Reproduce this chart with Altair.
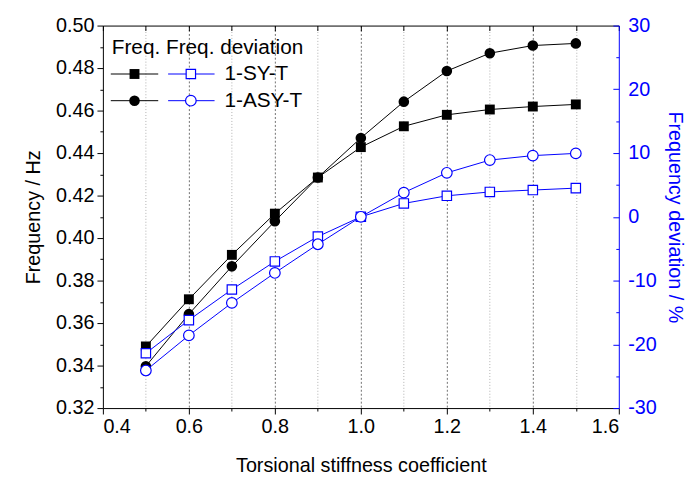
import altair as alt
import pandas as pd

# ---- data ----
coef = [0.5, 0.6, 0.7, 0.8, 0.9, 1.0, 1.1, 1.2, 1.3, 1.4, 1.5]
sy_freq = [0.3490, 0.3712, 0.3921, 0.4115, 0.4285, 0.4428, 0.4526, 0.4580, 0.4605, 0.4619, 0.4629]
asy_freq = [0.3397, 0.3642, 0.3867, 0.4079, 0.4285, 0.4471, 0.4642, 0.4786, 0.4870, 0.4906, 0.4916]
sy_dev = [-21.4, -16.2, -11.4, -7.0, -3.1, 0.0, 2.1, 3.3, 3.9, 4.2, 4.5]
asy_dev = [-24.1, -18.6, -13.5, -8.8, -4.3, 0.0, 3.8, 6.9, 8.9, 9.6, 9.95]

x_major = [0.4, 0.6, 0.8, 1.0, 1.2, 1.4, 1.6]
x_minor = [0.5, 0.7, 0.9, 1.1, 1.3, 1.5]
x_all = [0.4, 0.5, 0.6, 0.7, 0.8, 0.9, 1.0, 1.1, 1.2, 1.3, 1.4, 1.5, 1.6]
x_grid_major = [0.6, 0.8, 1.0, 1.2, 1.4]
yf_major = [0.32, 0.34, 0.36, 0.38, 0.40, 0.42, 0.44, 0.46, 0.48, 0.50]
yf_minor = [0.33, 0.35, 0.37, 0.39, 0.41, 0.43, 0.45, 0.47, 0.49]
yd_major = [-30, -20, -10, 0, 10, 20, 30]
yd_minor = [-25, -15, -5, 5, 15, 25]

legend_header = "Freq. Freq. deviation"
legend_labels = ["1-SY-T", "1-ASY-T"]
legend_shapes = ["square", "circle"]

W, H = 522, 387
FONT = "Liberation Sans"
BLUE = "#0000FF"
FS = 20

df = pd.DataFrame({"coef": coef, "sy_freq": sy_freq, "asy_freq": asy_freq,
                   "sy_dev": sy_dev, "asy_dev": asy_dev})

xs = alt.Scale(domain=[0.4, 1.6], nice=False, zero=False)
yfs = alt.Scale(domain=[0.32, 0.50], nice=False, zero=False)
yds = alt.Scale(domain=[-30, 30], nice=False, zero=False)

ax_x_main = alt.Axis(orient="bottom", values=x_major, format=".1f", tickSize=6, tickColor="black",
                     domainColor="black", labelFont=FONT, labelFontSize=FS, labelColor="black",
                     labelPadding=3, title="Torsional stiffness coefficient", titleFont=FONT,
                     titleFontSize=FS, titleFontWeight="normal", titleColor="black", titlePadding=19,
                     grid=False)
ax_x_grid_minor = alt.Axis(orient="bottom", values=x_minor, grid=True, gridColor="#b0b0b0",
                           gridDash=[1, 2], gridWidth=1, ticks=False, labels=False, domain=False,
                           title=None)
ax_x_grid_major = alt.Axis(orient="bottom", values=x_grid_major, grid=True, gridColor="#707070",
                           gridDash=[2, 2], gridWidth=1, ticks=False, labels=False, domain=False,
                           title=None)
ax_x_top = alt.Axis(orient="bottom", offset=-H, values=x_all, tickSize=5, tickColor="black",
                    labels=False, domain=True, domainColor="black", title=None, grid=False)
ax_x_minor = alt.Axis(orient="bottom", values=x_minor, tickSize=3, tickColor="black",
                      labels=False, domain=False, title=None, grid=False)

ax_yf_main = alt.Axis(orient="left", values=yf_major, format=".2f", tickSize=6, tickColor="black",
                      domainColor="black", labelFont=FONT, labelFontSize=FS, labelColor="black",
                      labelPadding=3, title="Frequency / Hz", titleFont=FONT, titleFontSize=FS,
                      titleFontWeight="normal", titleColor="black", titlePadding=12, grid=False)
ax_yf_minor = alt.Axis(orient="left", values=yf_minor, tickSize=3, tickColor="black",
                       labels=False, domain=False, title=None, grid=False)
ax_yd_main = alt.Axis(orient="right", values=yd_major, ticks=False, domainColor=BLUE,
                      labelExpr="'' + datum.value",
                      labelFont=FONT, labelFontSize=FS, labelColor=BLUE, labelPadding=9,
                      title="Frequency deviation / %", titleFont=FONT, titleFontSize=FS,
                      titleFontWeight="normal", titleColor=BLUE, titlePadding=8, grid=False)
ax_yd_in = alt.Axis(orient="left", offset=-W, values=yd_major, tickSize=6, tickColor=BLUE,
                    labels=False, domain=False, title=None, grid=False)
ax_yd_minor = alt.Axis(orient="left", offset=-W, values=yd_minor, tickSize=3, tickColor=BLUE,
                       labels=False, domain=False, title=None, grid=False)

base = alt.Chart(df)


def X(axis):
    return alt.X("coef:Q", scale=xs, axis=axis)


l1 = base.mark_line(color="black", strokeWidth=1).encode(
    x=X(ax_x_main), y=alt.Y("sy_freq:Q", scale=yfs, axis=ax_yf_main))
p1 = base.mark_point(shape="square", filled=True, color="black", size=100, opacity=1).encode(
    x=X(ax_x_grid_minor), y=alt.Y("sy_freq:Q", scale=yfs, axis=ax_yf_minor))
l2 = base.mark_line(color="black", strokeWidth=1).encode(
    x=X(ax_x_top), y=alt.Y("asy_freq:Q", scale=yfs, axis=None))
p2 = base.mark_point(shape="circle", filled=True, color="black", size=115, opacity=1).encode(
    x=X(ax_x_minor), y=alt.Y("asy_freq:Q", scale=yfs, axis=None))
l3 = base.mark_line(color=BLUE, strokeWidth=1).encode(
    x=X(ax_x_grid_major), y=alt.Y("sy_dev:Q", scale=yds, axis=ax_yd_main))
p3 = base.mark_point(shape="square", filled=True, fill="white", stroke=BLUE, strokeWidth=1.2,
                     size=90, opacity=1).encode(
    x=X(None), y=alt.Y("sy_dev:Q", scale=yds, axis=ax_yd_in))
l4 = base.mark_line(color=BLUE, strokeWidth=1).encode(
    x=X(None), y=alt.Y("asy_dev:Q", scale=yds, axis=ax_yd_minor))
p4 = base.mark_point(shape="circle", filled=True, fill="white", stroke=BLUE, strokeWidth=1.2,
                     size=115, opacity=1).encode(
    x=X(None), y=alt.Y("asy_dev:Q", scale=yds, axis=None))

# ---- legend (drawn inside the plot area) ----
one = alt.Chart(pd.DataFrame({"t": [legend_header]}))
header = one.mark_text(align="left", baseline="middle", font=FONT, fontSize=FS + 1,
                       color="black").encode(x=alt.value(9), y=alt.value(23), text="t:N")

legend_layers = [header]
row_y = [49, 76]
for i, (lab, shp) in enumerate(zip(legend_labels, legend_shapes)):
    d = alt.Chart(pd.DataFrame({"label": [lab]}))
    yy = row_y[i]
    legend_layers.append(d.mark_rule(color="black", strokeWidth=1).encode(
        x=alt.value(8), x2=alt.value(56), y=alt.value(yy)))
    legend_layers.append(d.mark_point(shape=shp, filled=True, color="black", opacity=1,
                                      size=100 if shp == "square" else 115).encode(
        x=alt.value(32), y=alt.value(yy)))
    legend_layers.append(d.mark_rule(color=BLUE, strokeWidth=1).encode(
        x=alt.value(66), x2=alt.value(113), y=alt.value(yy)))
    legend_layers.append(d.mark_point(shape=shp, filled=True, fill="white", stroke=BLUE,
                                      strokeWidth=1.2, opacity=1,
                                      size=90 if shp == "square" else 115).encode(
        x=alt.value(89), y=alt.value(yy)))
    legend_layers.append(d.mark_text(align="left", baseline="middle", font=FONT, fontSize=FS + 1,
                                     color="black").encode(
        x=alt.value(123), y=alt.value(yy), text="label:N"))

chart = alt.layer(l1, p1, l2, p2, l3, l4, p3, p4, *legend_layers).resolve_scale(
    x="independent", y="independent"
).properties(
    width=W, height=H,
    autosize=alt.AutoSizeParams(type="none"),
    padding={"left": 96, "top": 15, "right": 70, "bottom": 70},
    background="white",
).configure_view(stroke=None)

chart.save("out.html", embed_options={"renderer": "svg", "actions": False})
